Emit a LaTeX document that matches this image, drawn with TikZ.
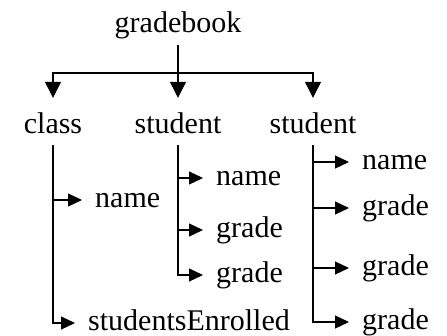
\documentclass[tikz,border=0pt]{standalone}
\usepackage{fontspec}
\setmainfont{Liberation Serif}
\usetikzlibrary{arrows.meta}

\begin{document}
\begin{tikzpicture}[x=1pt, y=-1pt,
  lbl/.style={inner sep=0pt, text height=21pt, text depth=7pt, font=\fontsize{30}{36}\selectfont},
  leaf/.style={lbl, anchor=west},
  edge/.style={line width=1.2pt, draw=black},
  downarr/.style={edge, -{Triangle[length=16pt, width=16pt]}, shorten >=14pt},
  sidearr/.style={edge, -{Triangle[length=14pt, width=13pt]}, shorten >=13pt, shorten <=5pt},
]
\useasboundingbox (0,0) rectangle (447,335);
% top levels
\node[lbl] (book) at (178,25) {gradebook};
\node[lbl] (cls)  at (53,126)  {class};
\node[lbl] (stuA) at (178,126) {student};
\node[lbl] (stuB) at (313,126) {student};
\coordinate (split) at (178,73);
\draw[edge, shorten <=6pt] (book.south) -- (split);
\draw[downarr] (split) -| (cls.north);
\draw[downarr] (split) -| (stuA.north);
\draw[downarr] (split) -| (stuB.north);

% class members
\node[leaf] (clsName)   at (95,200) {name};
\node[leaf] (clsEnroll) at (88,323) {studentsEnrolled};
\foreach \m in {clsName,clsEnroll}
  \draw[sidearr] (cls.south) |- (\m.west);

% first student
\node[leaf] (stuAName)  at (216,178) {name};
\node[leaf] (stuAGrdA)  at (216,230) {grade};
\node[leaf] (stuAGrdB)  at (216,275) {grade};
\foreach \m in {stuAName,stuAGrdA,stuAGrdB}
  \draw[sidearr] (stuA.south) |- (\m.west);

% second student
\node[leaf] (stuBName)  at (362,162) {name};
\node[leaf] (stuBGrdA)  at (362,208) {grade};
\node[leaf] (stuBGrdB)  at (362,268) {grade};
\node[leaf] (stuBGrdC)  at (362,322) {grade};
\foreach \m in {stuBName,stuBGrdA,stuBGrdB,stuBGrdC}
  \draw[sidearr] (stuB.south) |- (\m.west);
\end{tikzpicture}
\end{document}
